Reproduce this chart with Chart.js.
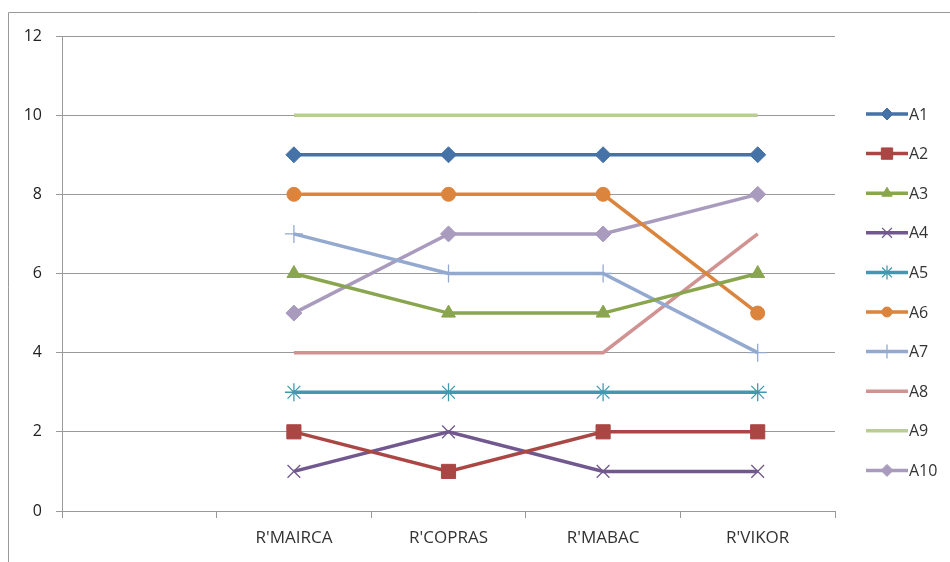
<!DOCTYPE html>
<html>
<head>
<meta charset="utf-8">
<script src="https://cdn.jsdelivr.net/npm/chart.js@4.4.0/dist/chart.umd.min.js"></script>
<style>
  html, body { margin: 0; padding: 0; background: #fff; }
  #wrap { width: 950px; height: 562px; }
</style>
</head>
<body>
<div id="wrap"><canvas id="chart" width="950" height="562"></canvas></div>
<script>
const categories = ['', "R'MAIRCA", "R'COPRAS", "R'MABAC", "R'VIKOR"];
const names = ['A1', 'A2', 'A3', 'A4', 'A5', 'A6', 'A7', 'A8', 'A9', 'A10'];

const a1 = [null, 9, 9, 9, 9];
const a2 = [null, 2, 1, 2, 2];
const a3 = [null, 6, 5, 5, 6];
const a4 = [null, 1, 2, 1, 1];
const a5 = [null, 3, 3, 3, 3];
const a6 = [null, 8, 8, 8, 5];
const a7 = [null, 7, 6, 6, 4];
const a8 = [null, 4, 4, 4, 7];
const a9 = [null, 10, 10, 10, 10];
const a10 = [null, 5, 7, 7, 8];

const yTicks = [0, 2, 4, 6, 8, 10, 12];

const series = [a1, a2, a3, a4, a5, a6, a7, a8, a9, a10];
const colours = ['#4572A7', '#AA4643', '#89A54E', '#71588F', '#4198AF',
                 '#DB843D', '#93A9CF', '#D19392', '#B9CD96', '#A99BBD'];
const markers = ['rectRot', 'rect', 'triangle', 'crossRot', 'star',
                 'circle', 'cross', false, false, 'rectRot'];
const markerSize = [8, 10, 8, 9, 9, 7, 9, 0, 0, 8];

const datasets = series.map((d, i) => ({
    label: names[i],
    data: d,
    borderColor: colours[i],
    backgroundColor: colours[i],
    borderWidth: 3.5,
    pointStyle: markers[i],
    pointRadius: markerSize[i],
    pointBorderWidth: ['crossRot', 'star', 'cross'].includes(markers[i]) ? 1.3 : 1,
    tension: 0,
    fill: false
}));

// frame + custom legend drawn with the chart
const frameLegend = {
    id: 'frameLegend',
    beforeDraw(chart) {
        const ctx = chart.ctx;
        ctx.save();
        ctx.strokeStyle = '#999';
        ctx.lineWidth = 1;
        ctx.beginPath();
        ctx.moveTo(8.5, 562);
        ctx.lineTo(8.5, 12.5);
        ctx.lineTo(950, 12.5);
        ctx.stroke();
        ctx.restore();
    },
    afterDraw(chart) {
        const ctx = chart.ctx;
        ctx.save();
        chart.data.datasets.forEach((ds, i) => {
            const y = 114 + i * 39.6;
            ctx.strokeStyle = ds.borderColor;
            ctx.lineWidth = 3.5;
            ctx.beginPath();
            ctx.moveTo(866, y);
            ctx.lineTo(908, y);
            ctx.stroke();
            if (ds.pointStyle) {
                ctx.fillStyle = ds.backgroundColor;
                ctx.strokeStyle = ds.borderColor;
                ctx.lineWidth = ds.pointBorderWidth;
                Chart.helpers.drawPoint(ctx, {
                    pointStyle: ds.pointStyle,
                    radius: ds.pointRadius - 2,
                    rotation: 0,
                    borderWidth: ds.pointBorderWidth
                }, 887, y);
            }
            ctx.fillStyle = '#333';
            ctx.font = '16px "Open Sans", sans-serif';
            ctx.textAlign = 'left';
            ctx.textBaseline = 'middle';
            ctx.fillText(ds.label, 909, y + 1);
        });
        ctx.restore();
    }
};

new Chart(document.getElementById('chart'), {
    type: 'line',
    data: { labels: categories, datasets: datasets },
    plugins: [frameLegend],
    options: {
        responsive: false,
        animation: false,
        layout: { padding: { top: 36, right: 115, bottom: 0, left: 0 } },
        plugins: {
            legend: { display: false },
            tooltip: { enabled: false }
        },
        scales: {
            x: {
                offset: true,
                grid: {
                    offset: true,
                    drawOnChartArea: false,
                    drawTicks: true,
                    tickLength: 7,
                    color: '#999'
                },
                border: { display: true, color: '#999', width: 1 },
                ticks: {
                    color: '#333',
                    font: { family: '"Open Sans", sans-serif', size: 17 },
                    padding: 10,
                    maxRotation: 0,
                    autoSkip: false
                },
                afterFit(s) { s.height = 51; }
            },
            y: {
                min: 0,
                max: 12,
                afterBuildTicks(s) { s.ticks = yTicks.map(v => ({ value: v })); },
                grid: {
                    color: '#999',
                    tickLength: 6,
                    drawTicks: true
                },
                border: { display: true, color: '#999', width: 1 },
                ticks: {
                    color: '#222',
                    font: { family: '"Open Sans", sans-serif', size: 16 },
                    padding: 14
                },
                afterFit(s) { s.width = 62; }
            }
        }
    }
});
</script>
</body>
</html>
